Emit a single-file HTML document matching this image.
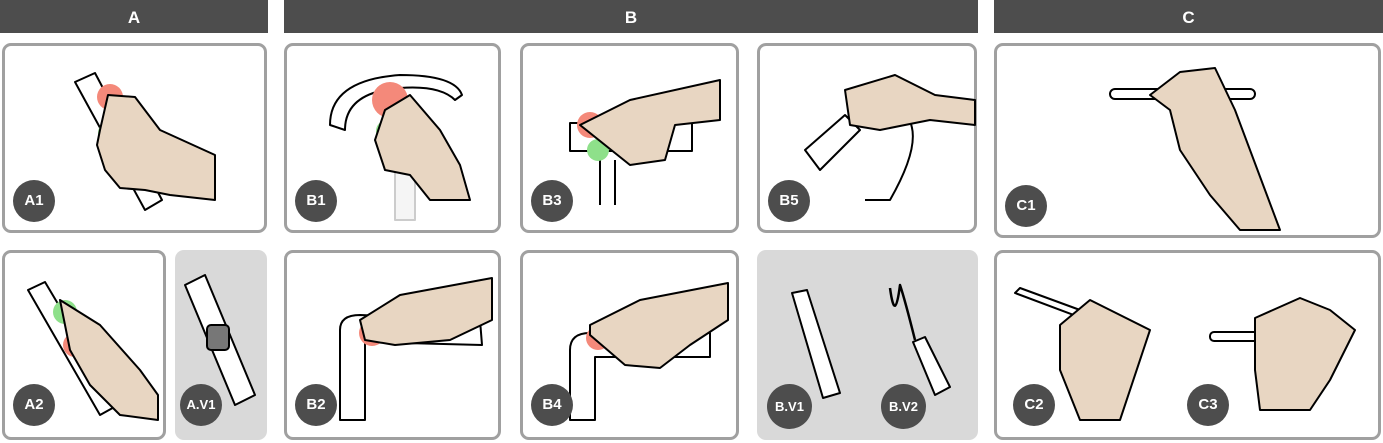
<!DOCTYPE html>
<html><head><style>
body{margin:0;width:1383px;height:443px;background:#fff;position:relative;overflow:hidden;font-family:"Liberation Sans",sans-serif}
.h{position:absolute;top:0;height:33px;background:#4d4d4d;color:#fff;font-weight:bold;font-size:17px;text-align:center;line-height:35px}
.p{position:absolute;box-sizing:border-box;border:3px solid #a0a0a0;border-radius:9px;background:#fff}
.g{position:absolute;border-radius:9px;background:#d9d9d9}
.l{position:absolute;width:42px;height:42px;border-radius:50%;background:#4d4d4d;color:#fff;font-weight:bold;font-size:15px;text-align:center;line-height:42px}
svg{position:absolute;left:0;top:0}
</style></head><body>
<div class="h" style="left:0;width:268px">A</div>
<div class="h" style="left:284px;width:694px">B</div>
<div class="h" style="left:994px;width:389px">C</div>

<div class="p" style="left:2px;top:43px;width:265px;height:190px"></div>
<div class="p" style="left:284px;top:43px;width:217px;height:190px"></div>
<div class="p" style="left:520px;top:43px;width:219px;height:190px"></div>
<div class="p" style="left:757px;top:43px;width:220px;height:190px"></div>
<div class="p" style="left:994px;top:43px;width:387px;height:195px"></div>
<div class="p" style="left:2px;top:250px;width:164px;height:190px"></div>
<div class="g" style="left:175px;top:250px;width:92px;height:190px"></div>
<div class="p" style="left:284px;top:250px;width:217px;height:190px"></div>
<div class="p" style="left:520px;top:250px;width:219px;height:190px"></div>
<div class="g" style="left:757px;top:250px;width:221px;height:190px"></div>
<div class="p" style="left:994px;top:250px;width:387px;height:190px"></div>

<svg width="1383" height="443" stroke="#000" stroke-width="2" stroke-linejoin="round">
<!-- A1 -->
<polygon points="75,82 95,73 162,200 145,210" fill="#fff"/>
<circle cx="110" cy="97" r="13" fill="#f4897a" stroke="none"/>
<circle cx="110" cy="133" r="12" fill="#8ee08a" stroke="none"/>
<circle cx="128" cy="155" r="10" fill="#8fb2ee" stroke="none"/>
<path d="M108,95 L135,97 L160,130 L215,155 L215,200 L170,195 L145,190 L120,188 L105,170 L97,145 L100,130 Z" fill="#e8d6c2"/>
<!-- A2 -->
<polygon points="28,290 45,282 118,405 100,415" fill="#fff"/>
<circle cx="65" cy="312" r="12" fill="#8ee08a" stroke="none"/>
<circle cx="75" cy="345" r="12" fill="#f4897a" stroke="none"/>
<path d="M60,300 L100,325 L140,370 L158,395 L158,420 L120,415 L90,385 L70,350 Z" fill="#e8d6c2"/>
<!-- A.V1 -->
<polygon points="185,285 205,275 255,395 235,405" fill="#fff"/>
<rect x="207" y="325" width="22" height="25" rx="4" fill="#777"/>
<!-- B1 -->
<path d="M330,125 Q330,80 400,75 Q455,75 462,95 L455,100 Q440,85 400,88 Q345,92 345,130 Z" fill="#fff"/>
<rect x="395" y="150" width="20" height="70" fill="#f5f5f5" stroke="#ccc"/>
<circle cx="390" cy="100" r="18" fill="#f4897a" stroke="none"/>
<circle cx="387" cy="131" r="11" fill="#8ee08a" stroke="none"/>
<path d="M385,110 L410,95 L440,130 L460,165 L470,200 L430,200 L410,175 L385,170 L375,140 Z" fill="#e8d6c2"/>
<!-- B3 -->
<rect x="570" y="123" width="122" height="28" fill="#fff"/>
<line x1="600" y1="160" x2="600" y2="205"/><line x1="615" y1="160" x2="615" y2="205"/>
<circle cx="590" cy="125" r="13" fill="#f4897a" stroke="none"/>
<circle cx="598" cy="150" r="11" fill="#8ee08a" stroke="none"/>
<circle cx="637" cy="148" r="11" fill="#8fb2ee" stroke="none"/>
<path d="M580,125 L630,100 L720,80 L720,120 L675,125 L665,160 L630,165 Z" fill="#e8d6c2"/>
<!-- B5 -->
<path d="M830,140 Q860,90 900,110 Q930,130 890,200 L865,200" fill="none"/>
<polygon points="805,150 845,115 860,130 820,170" fill="#fff"/>
<path d="M845,90 L895,75 L935,95 L975,100 L975,125 L930,120 L880,130 L850,125 Z" fill="#e8d6c2"/>
<!-- B2 -->
<path d="M340,330 Q340,315 360,315 L480,320 L482,345 L365,342 L365,420 L340,420 Z" fill="#fff"/>
<circle cx="372" cy="333" r="13" fill="#f4897a" stroke="none"/>
<path d="M360,320 L400,295 L492,278 L492,320 L450,340 L395,345 L365,340 Z" fill="#e8d6c2"/>
<!-- B4 -->
<path d="M570,350 Q570,333 590,333 L710,333 L710,357 L595,357 L595,420 L570,420 Z" fill="#fff"/>
<circle cx="598" cy="338" r="12" fill="#f4897a" stroke="none"/>
<circle cx="625" cy="352" r="10" fill="#8ee08a" stroke="none"/>
<circle cx="650" cy="350" r="10" fill="#8fb2ee" stroke="none"/>
<path d="M590,325 L640,300 L728,283 L728,320 L690,345 L660,368 L625,365 L590,335 Z" fill="#e8d6c2"/>
<!-- B.V1/2 -->
<polygon points="792,293 807,290 840,393 823,398" fill="#fff"/>
<path d="M890,288 Q895,325 900,285 Q905,300 915,340" fill="none" stroke-width="2.5"/>
<polygon points="913,342 925,337 950,387 935,395" fill="#fff"/>
<!-- C1 -->
<rect x="1110" y="89" width="145" height="10" rx="5" fill="#fff"/>
<path d="M1150,95 L1180,72 L1215,68 L1235,110 L1265,190 L1280,230 L1240,230 L1210,195 L1180,150 L1170,110 Z" fill="#e8d6c2"/>
<!-- C2 -->
<polygon points="1015,293 1020,288 1140,332 1135,338" fill="#fff"/>
<path d="M1060,325 L1090,300 L1110,310 L1150,330 L1140,360 L1120,420 L1080,420 L1060,370 Z" fill="#e8d6c2"/>
<!-- C3 -->
<rect x="1210" y="332" width="125" height="9" rx="4" fill="#fff"/>
<path d="M1255,318 L1300,298 L1330,310 L1355,330 L1330,380 L1310,410 L1260,410 L1255,370 Z" fill="#e8d6c2"/>
</svg>

<div class="l" style="left:13px;top:180px">A1</div>
<div class="l" style="left:295px;top:180px">B1</div>
<div class="l" style="left:531px;top:180px">B3</div>
<div class="l" style="left:768px;top:180px">B5</div>
<div class="l" style="left:1005px;top:185px">C1</div>
<div class="l" style="left:13px;top:384px">A2</div>
<div class="l" style="left:180px;top:384px;font-size:13px">A.V1</div>
<div class="l" style="left:295px;top:384px">B2</div>
<div class="l" style="left:531px;top:384px">B4</div>
<div class="l" style="left:767px;top:384px;width:45px;height:45px;line-height:45px;font-size:13px">B.V1</div>
<div class="l" style="left:881px;top:384px;width:45px;height:45px;line-height:45px;font-size:13px">B.V2</div>
<div class="l" style="left:1013px;top:384px">C2</div>
<div class="l" style="left:1187px;top:384px">C3</div>
</body></html>
